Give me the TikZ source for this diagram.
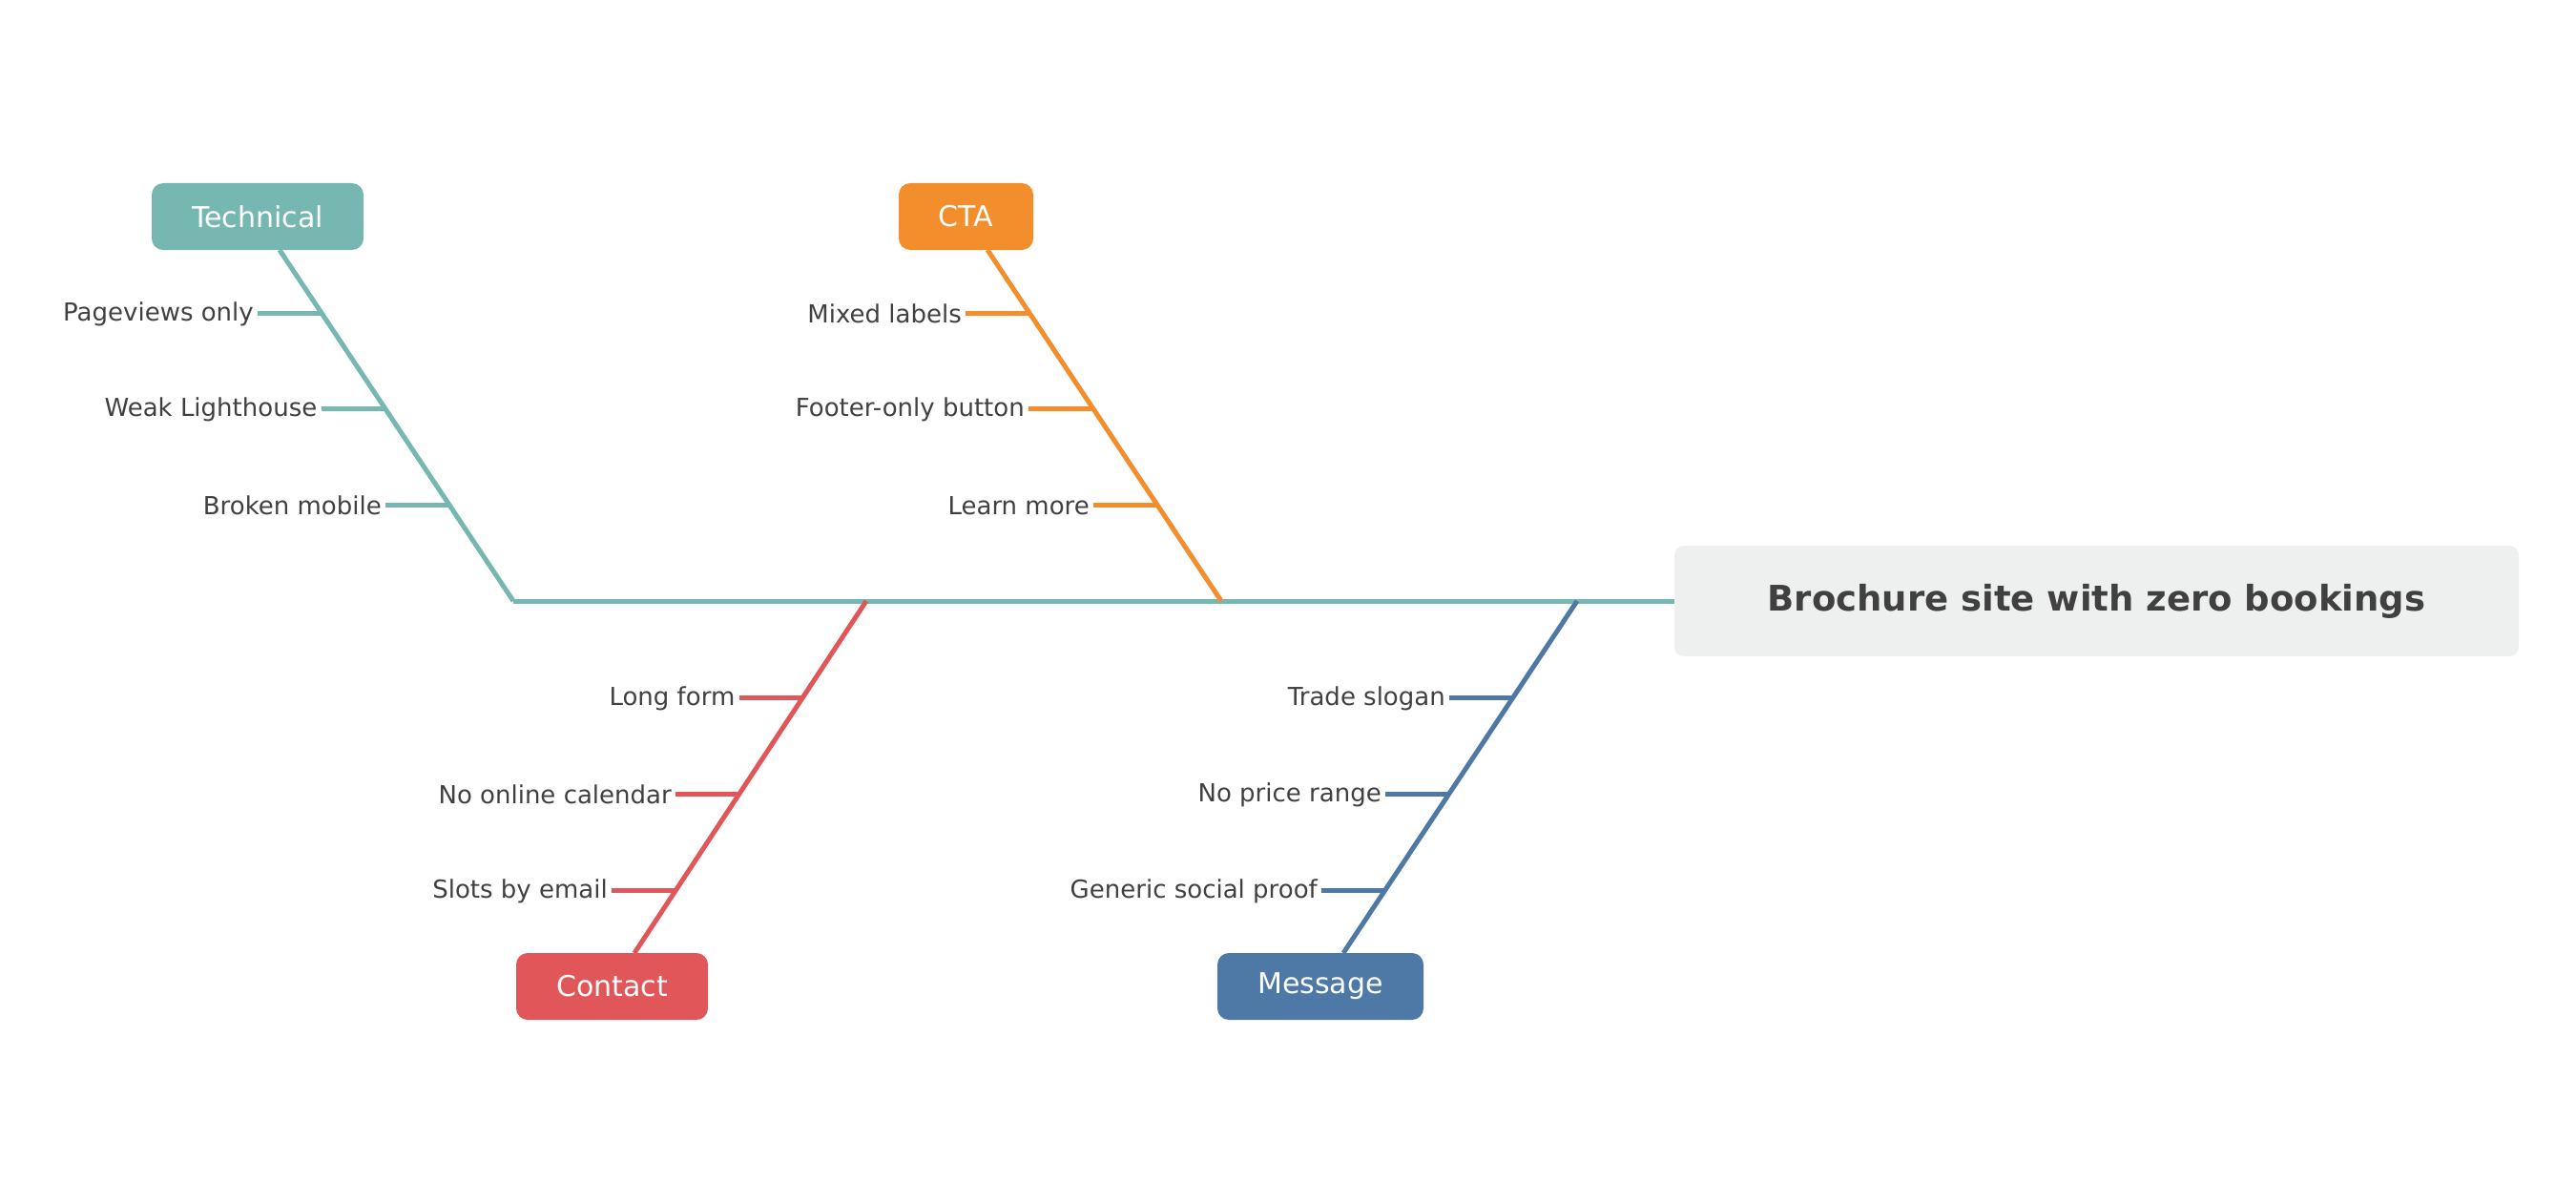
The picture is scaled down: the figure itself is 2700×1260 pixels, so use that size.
\documentclass[tikz,border=0pt]{standalone}
\usepackage{fontspec}
\setmainfont{DejaVu Sans}
\definecolor{teal}{HTML}{76B7B2}
\definecolor{org}{HTML}{F28E2B}
\definecolor{red}{HTML}{E15759}
\definecolor{blu}{HTML}{4E79A7}
\definecolor{txt}{HTML}{404040}
\definecolor{headbg}{HTML}{EEF0EF}
\begin{document}
\begin{tikzpicture}[x=1pt,y=-1pt,
  bone/.style={line width=5pt},
  cat/.style={rounded corners=12pt,text=white,font=\fontsize{30}{36}\selectfont,inner sep=0pt},
  lab/.style={anchor=east,text=txt,font=\fontsize{26}{31}\selectfont,inner sep=0pt}]
\useasboundingbox (0,0) rectangle (2700,1260);
% spine
\coordinate (sL) at (538,630);
\coordinate (sR) at (1755,630);
\draw[bone,teal] (sL) -- (sR);
\node[fill=headbg,rounded corners=10pt,minimum width=885pt,minimum height=116pt,text=txt,font=\bfseries\fontsize{37}{44}\selectfont] (head) at (2197.5,630) {Brochure site with zero bookings};
% Technical
\node[cat,fill=teal,minimum width=222pt,minimum height=70pt] (tech) at (270,227) {Technical};
\coordinate (tA) at (293,262);
\draw[bone,teal] (tA) -- (sL);
\foreach \y/\x/\t in {328/337/Pageviews only,428/403.5/Weak Lighthouse,529/471/Broken mobile}{
  \draw[bone,teal] (\x-67,\y) -- (\x,\y);
  \node[lab] at (\x-71,\y+1) {\t};}
% CTA
\node[cat,fill=org,minimum width=141pt,minimum height=70pt] (cta) at (1012.5,227) {CTA};
\coordinate (cA) at (1035,262);
\coordinate (cB) at (1280,630);
\draw[bone,org] (cA) -- (cB);
\foreach \y/\x/\t in {328/1079/Mixed labels,428/1145/Footer-only button,529/1213/Learn more}{
  \draw[bone,org] (\x-67,\y) -- (\x,\y);
  \node[lab] at (\x-71,\y+1) {\t};}
% Contact
\node[cat,fill=red,minimum width=201pt,minimum height=70pt] (con) at (641.5,1034) {Contact};
\coordinate (rA) at (908,630);
\coordinate (rB) at (665,999);
\draw[bone,red] (rA) -- (rB);
\foreach \y/\x/\t in {731/841.5/Long form,832/775/No online calendar,933/708/Slots by email}{
  \draw[bone,red] (\x-67,\y) -- (\x,\y);
  \node[lab] at (\x-71,\y+1) {\t};}
% Message
\node[cat,fill=blu,minimum width=216pt,minimum height=70pt] (msg) at (1384,1034) {Message};
\coordinate (bA) at (1653,630);
\coordinate (bB) at (1408,999);
\draw[bone,blu] (bA) -- (bB);
\foreach \y/\x/\t in {731/1586/Trade slogan,832/1519/No price range,933/1452/Generic social proof}{
  \draw[bone,blu] (\x-67,\y) -- (\x,\y);
  \node[lab] at (\x-71,\y+1) {\t};}
\end{tikzpicture}
\end{document}
